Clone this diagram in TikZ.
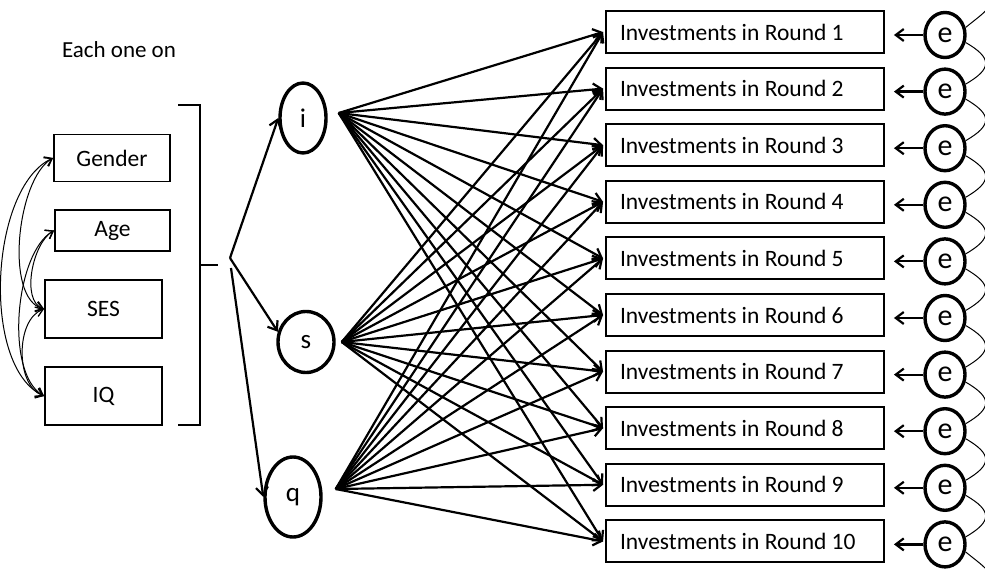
\documentclass[tikz,border=0pt]{standalone}
\usepackage{fontspec}
\setmainfont{Carlito}
\usetikzlibrary{arrows.meta,shapes.geometric}
\begin{document}
\begin{tikzpicture}[x=1pt,y=-1pt,
  every node/.style={inner sep=0pt},
  obsbox/.style={draw,line width=1.9pt,font=\fontsize{23.5}{27}\selectfont},
  latent/.style={draw,ellipse,line width=3.4pt,font=\fontsize{27}{31}\selectfont},
  errnode/.style={draw,ellipse,line width=3.4pt,minimum width=40pt,minimum height=45pt,font=\fontsize{30}{34}\selectfont},
  path/.style={line width=2.2pt,-{Straight Barb[length=8pt,width=12pt,line width=2.2pt]}},
  cov/.style={line width=1pt,{Straight Barb[length=7pt,width=10pt,line width=1.3pt]}-{Straight Barb[length=7pt,width=10pt,line width=1.3pt]}},
  ecov/.style={line width=1pt}]
\useasboundingbox (0,0) rectangle (985,569);
\clip (0,0) rectangle (985,569);

% caption above the covariates
\node (cap) at (119,50) {\fontsize{23}{27}\selectfont Each one on};

% time-invariant covariates
\node[obsbox,minimum width=116pt,minimum height=47pt] (G) at (112,158) {Gender};
\node[obsbox,minimum width=115pt,minimum height=41pt] (A) at (112.5,230.5) {Age};
\node[obsbox,minimum width=117pt,minimum height=58pt] (S) at (103.5,309) {SES};
\node[obsbox,minimum width=117pt,minimum height=58pt] (Q) at (103.5,396) {IQ};

% covariances among the covariates
\draw[cov] (G.west) to[out=205,in=155,looseness=0.75] (Q.west);
\draw[cov] (A.west) to[out=210,in=150,looseness=0.7] (Q.west);
\draw[cov] (A.west) to[out=210,in=160,looseness=0.8] (S.west);
\draw[cov] (G.west) to[out=210,in=165,looseness=0.7] (S.west);
\draw[cov] (S.west) to[out=200,in=160,looseness=0.9] (Q.west);

% bracket grouping the covariates
\draw[line width=2.4pt] (178,105) -- (200,105) -- (200,425) -- (178,425);
\draw[line width=2.4pt] (200,265) -- (218,265);
\coordinate (split) at (230,258);
\coordinate (splitq) at (231,268);

% growth factors
\node[latent,minimum width=46pt,minimum height=70pt] (i) at (303,118) {i};
\node[latent,minimum width=56pt,minimum height=61pt] (s) at (306,342) {s};
\node[latent,minimum width=56pt,minimum height=80pt] (q) at (293,497) {q};

\draw[path] (split) -- (i.west);
\draw[path] (split) -- (s.160);
\draw[path] (splitq) -- (q.west);

\coordinate (io) at ([xshift=11pt,yshift=5pt]i.east);
\coordinate (so) at ([xshift=6pt]s.east);
\coordinate (qo) at ([xshift=13pt,yshift=8pt]q.east);

% repeated measures and their residuals
\foreach \k in {1,...,10}{
  \pgfmathsetmacro{\yy}{32+(\k-1)*56.6}
  \node[obsbox,minimum width=278pt,minimum height=42pt] (B\k) at (745,\yy)
    {\makebox[250pt][l]{Investments in Round \k}};
  \node[errnode] (e\k) at (945,\yy+3) {e};
  \draw[path] (e\k.west) -- ([xshift=9pt]B\k.east |- e\k.west);
}

% loadings from each growth factor onto every round
\foreach \k in {1,...,10}{
  \draw[path] (io) -- ([xshift=-2pt]B\k.west);
  \draw[path] (so) -- ([xshift=-2pt]B\k.west);
  \draw[path] (qo) -- ([xshift=-2pt]B\k.west);
}

% residual covariances between neighbouring rounds
\draw[ecov] (e1.20) to[out=40,in=-90] ++(30,-40);
\foreach \k [evaluate=\k as \n using int(\k+1)] in {1,...,9}{
  \draw[ecov] (e\k.-20) to[out=-30,in=30,looseness=1.9] (e\n.20);
}
\draw[ecov] (e10.-20) to[out=-40,in=90] ++(30,40);
\end{tikzpicture}
\end{document}
